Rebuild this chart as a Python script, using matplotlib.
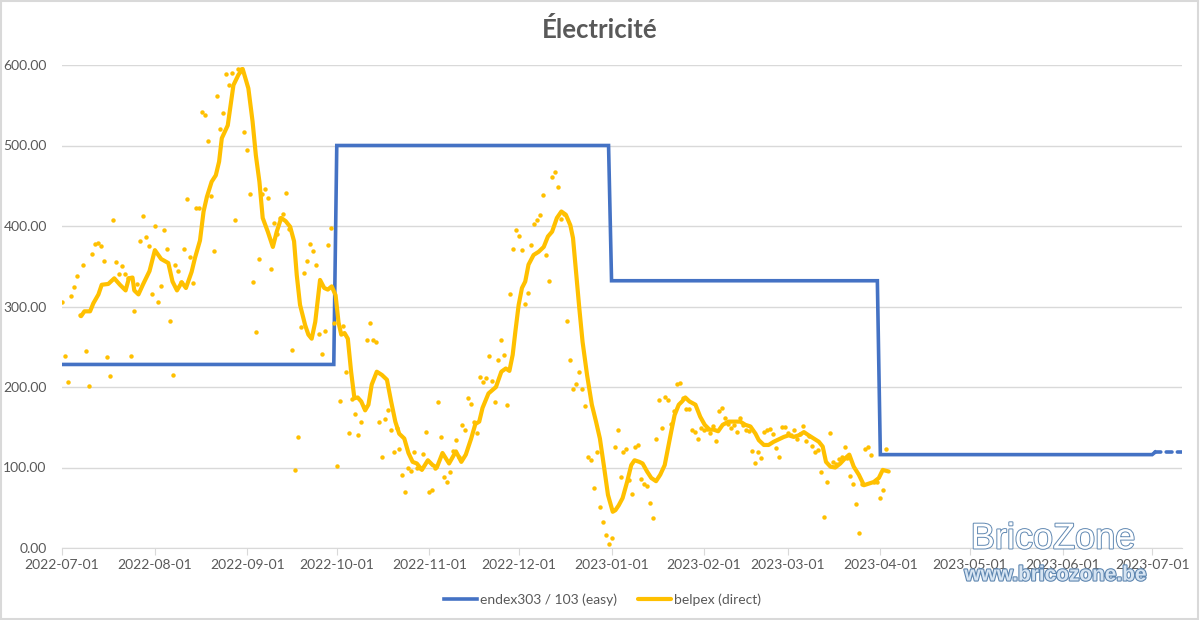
import numpy as np
import matplotlib
matplotlib.use("Agg")
import matplotlib.pyplot as plt
import matplotlib.dates as mdates
import matplotlib.patheffects as pe

plt.rcParams['font.family'] = ['Lato', 'DejaVu Sans']

# belpex daily values, one per day from 2022-07-01
start = np.datetime64('2022-07-01')
belpex_daily = [
    306, 238, 206, 313, 324, 338, 290, 351, 245, 201,
    365, 378, 379, 375, 356, 237, 214, 408, 355, 340,
    350, 340, 335, 238, 294, 328, 381, 412, 386, 375,
    316, 400, 305, 325, 395, 372, 282, 215, 351, 344,
    330, 371, 433, 362, 329, 422, 422, 542, 538, 505,
    437, 369, 562, 520, 540, 589, 575, 590, 408, 595,
    595, 517, 495, 440, 330, 268, 359, 440, 446, 435,
    346, 404, 390, 410, 415, 441, 396, 246, 97, 138,
    274, 342, 357, 378, 369, 352, 266, 241, 270, 377,
    397, 279, 102, 182, 276, 219, 143, 185, 166, 140,
    156, 175, 259, 279, 258, 256, 156, 113, 160, 171,
    146, 119, 149, 123, 91, 69, 99, 96, 119, 100,
    100, 117, 144, 70, 72, 100, 181, 138, 88, 82,
    95, 120, 134, 113, 153, 147, 186, 179, 157, 143,
    212, 206, 211, 239, 208, 181, 233, 258, 240, 178,
    316, 372, 395, 388, 370, 303, 317, 376, 403, 407,
    414, 438, 364, 332, 461, 467, 448, 409, 415, 282,
    234, 197, 204, 219, 197, 177, 113, 109, 75, 119,
    51, 32, 16, 5, 13, 126, 146, 88, 119, 123,
    84, 67, 126, 128, 86, 80, 77, 56, 37, 135,
    184, 149, 187, 184, 154, 170, 204, 205, 186, 173,
    173, 147, 144, 136, 149, 146, 148, 143, 152, 133,
    170, 174, 161, 154, 149, 153, 144, 161, 153, 146,
    145, 121, 106, 119, 112, 144, 147, 148, 142, 124,
    113, 150, 150, 143, 140, 146, 136, 142, 152, 133,
    139, 127, 119, 122, 95, 39, 82, 143, 107, 104,
    111, 113, 125, 112, 90, 79, 55, 19, 80, 123,
    126, 116, 82, 82, 62, 72, 123,
]

# smoothed belpex curve (day offset from 2022-07-01, value)
trend_day = [
    6.4, 7.5, 9.4, 10.5, 12.2, 13.3, 15.5, 17.5, 19.4, 21.3, 22.4, 23.6, 24.2,
    25.6, 27.2, 29.3, 31.1, 33.2, 35.6, 37.0, 38.5, 40.1, 41.5, 43.4, 44.5,
    46.2, 47.4, 48.5, 50.1, 51.5, 52.6, 53.5, 55.5, 57.4, 59.1, 60.5, 62.4,
    63.8, 64.9, 66.1, 67.2, 68.9, 70.6, 71.9, 73.4, 74.9, 76.4, 77.7, 78.6,
    79.7, 81.4, 82.5, 83.6, 84.8, 86.4, 87.8, 89.0, 90.3, 91.6, 92.6, 93.5,
    94.6, 95.7, 96.8, 97.9, 99.0, 100.2, 101.5, 102.6, 103.7, 105.4, 107.1,
    108.8, 110.2, 111.6, 112.9, 114.6, 116.0, 117.4, 118.8, 120.5, 122.5,
    124.1, 125.5, 127.4, 129.6, 131.9, 133.7, 135.2, 137.0, 138.4, 139.7,
    140.8, 142.8, 145.3, 147.1, 148.6, 149.8, 150.9, 151.8, 152.9, 154.0,
    155.1, 156.2, 157.9, 159.6, 161.3, 162.7, 164.1, 165.7, 167.2, 168.7,
    170.2, 171.1, 172.1, 173.2, 174.3, 175.8, 177.4, 178.8, 180.1, 181.4,
    182.8, 184.4, 185.3, 186.4, 187.7, 189.2, 190.6, 191.7, 193.3, 194.4,
    195.9, 197.3, 198.9, 200.3, 201.8, 202.9, 204.0, 205.1, 206.5, 207.6,
    208.7, 210.1, 212.1, 213.7, 215.2, 216.8, 218.2, 219.7, 221.2, 223.2,
    225.2, 227.1, 228.8, 230.5, 232.2, 233.3, 235.0, 236.6, 238.3, 240.0,
    241.7, 243.3, 245.0, 246.7, 248.4, 250.0, 251.7, 253.4, 254.7, 255.8,
    257.3, 258.9, 260.6, 262.1, 263.6, 265.1, 266.8, 268.5, 270.1, 271.8,
    273.5, 274.8, 276.8,
]
trend_val = [
    288, 294, 294, 304, 315, 327, 328, 335, 327, 320, 335, 336, 320,
    315, 328, 344, 370, 359, 354, 331, 320, 330, 323, 343, 360,
    382, 418, 436, 455, 463, 480, 509, 525, 575, 588, 595, 571,
    530, 488, 455, 410, 393, 374, 393, 410, 406, 399, 381, 339,
    302, 277, 265, 260, 281, 333, 323, 321, 325, 314, 280, 265,
    267, 260, 219, 186, 187, 182, 171, 178, 203, 219, 215,
    209, 182, 157, 142, 136, 118, 107, 105, 97, 109,
    103, 100, 118, 105, 120, 107, 116, 136, 154, 157,
    174, 192, 200, 219, 223, 220, 240, 269, 302, 323,
    331, 352, 364, 368, 374, 387, 393, 410, 418, 414,
    401, 385, 343, 298, 256, 215, 178, 157, 136, 103,
    66, 45, 47, 53, 62, 82, 103, 109, 107, 105,
    95, 87, 83, 91, 103, 124, 145, 165, 178, 182,
    187, 182, 178, 163, 153, 147, 147, 145, 153, 157,
    157, 157, 153, 151, 142, 134, 128, 128, 132, 135,
    138, 140, 138, 140, 144, 140, 136, 132, 126, 107,
    101, 100, 105, 111, 116, 101, 91, 78, 80, 82,
    87, 97, 95,
]

# endex303 / 103 monthly-fixed tariff
endex_dates = ['2022-07-01', '2022-09-30', '2022-10-01', '2022-12-31', '2023-01-01',
               '2023-03-31', '2023-04-01', '2023-07-01', '2023-07-02']
endex_vals = [228, 228, 500, 500, 332, 332, 116, 116, 119]
endex_fwd_dates = ['2023-07-02', '2023-07-11']
endex_fwd_vals = [119, 119]

month_ticks = ['2022-07-01', '2022-08-01', '2022-09-01', '2022-10-01', '2022-11-01',
               '2022-12-01', '2023-01-01', '2023-02-01', '2023-03-01', '2023-04-01',
               '2023-05-01', '2023-06-01', '2023-07-01']

blue = '#4472C4'
gold = '#FFC000'
grid = '#D9D9D9'
txt = '#595959'

d0 = mdates.date2num(start)
daily_x = d0 + np.arange(len(belpex_daily))
trend_x = d0 + np.array(trend_day)

fig = plt.figure(figsize=(12, 6.2), dpi=100)
ax = fig.add_axes([62 / 1200, 1 - 548 / 620, (1182 - 62) / 1200, (548 - 65) / 620])

ax.plot(mdates.datestr2num(endex_dates), endex_vals, color=blue, lw=2.6,
        solid_joinstyle='miter', label='endex303 / 103 (easy)', zorder=3)
ax.plot(mdates.datestr2num(endex_fwd_dates), endex_fwd_vals, color=blue, lw=2.6,
        linestyle=(0, (1.6, 1.5)), dash_capstyle='round', zorder=3)
ax.plot(trend_x, trend_val, color=gold, lw=3.0, solid_joinstyle='round',
        solid_capstyle='round', label='belpex (direct)', zorder=4)
ax.plot(daily_x, belpex_daily, linestyle='none', marker='o', ms=3.2,
        mec='none', color=gold, zorder=4)

ax.set_ylim(0, 600)
ax.set_yticks(np.arange(0, 601, 100))
ax.yaxis.set_major_formatter(matplotlib.ticker.FuncFormatter(lambda v, p: f'{v:.2f}'))
ax.set_xlim(mdates.datestr2num('2023-07-01') - 365, mdates.datestr2num('2023-07-11'))
ax.set_xticks(mdates.datestr2num(month_ticks))
ax.set_xticklabels(month_ticks)

ax.grid(axis='y', color=grid, lw=1)
ax.set_axisbelow(True)
for s in ['top', 'right', 'left']:
    ax.spines[s].set_visible(False)
ax.spines['bottom'].set_color(grid)
ax.tick_params(axis='y', length=0, pad=11, labelsize=10, labelcolor=txt)
ax.tick_params(axis='x', length=5, color=grid, pad=3, labelsize=10, labelcolor=txt)

fig.text(0.5, 1 - 29 / 620, 'Électricité', ha='center', va='center', fontsize=18.5,
         fontweight='bold', color=txt)

fig.legend(loc='lower center', bbox_to_anchor=(0.502, 0.002), ncol=2, frameon=False,
           fontsize=10, handlelength=2.4, handletextpad=0.2, columnspacing=1.5,
           labelcolor=txt)

# watermark
fig.text(1053 / 1200, 1 - 539 / 620, 'BricoZone', fontsize=26, ha='center', va='center',
         color='white', family='Liberation Sans',
         path_effects=[pe.withStroke(linewidth=1.4, foreground='#6088B2')])
fig.text(1056 / 1200, 1 - 575 / 620, 'www.bricozone.be', fontsize=15, fontweight='bold',
         ha='center', va='center', color='#D6E4F2', family='Liberation Sans',
         path_effects=[pe.withStroke(linewidth=1.6, foreground='#5E86B0')])

# chart border
fig.patches.append(plt.Rectangle((0.001, 0.002), 0.997, 0.996, transform=fig.transFigure,
                                 fill=False, edgecolor=grid, lw=1.5))

fig.savefig('out.png', dpi=100)
